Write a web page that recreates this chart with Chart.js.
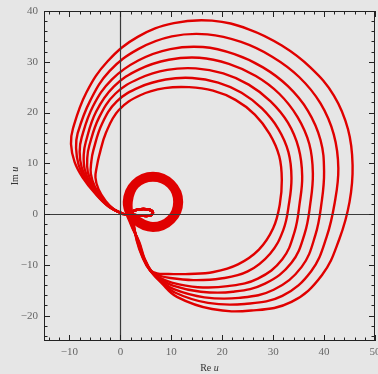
<!DOCTYPE html>
<html><head><meta charset="utf-8">
<script src="https://cdn.jsdelivr.net/npm/chart.js@4.4.1/dist/chart.umd.min.js"></script>
<style>html,body{margin:0;padding:0;background:#e6e6e6;} #wrap{width:378px;height:374px;position:relative;}</style>
</head><body><div id="wrap"><canvas id="c"></canvas></div>
<script>
const xTickValues = [-10, 0, 10, 20, 30, 40, 50];
const yTickValues = [-20, -10, 0, 10, 20, 30, 40];
const xRange = [-15, 50];
const yRange = [-25, 40];

const spiral1 = [[0.6,0],[-1.1,0.8],[-2.9,2.6],[-4.3,4.9],[-4.9,7.2],[-4.6,9.5],[-4.2,11.4],[-2.8,16.1],[-0.3,20.5],[3.9,23.4],[8.7,24.8],[13.5,25.0],[18.2,24.3],[22.6,22.5],[26.4,19.6],[29.3,15.8],[31.2,11.4],[31.7,6.7],[31.3,1.9],[30.0,-2.8],[27.2,-7.0],[23.1,-9.9],[18.3,-11.4],[13.5,-11.8],[9.5,-11.8],[7.2,-11.7],[5.7,-10.9],[4.3,-8.4],[3.2,-5.2],[2.6,-1.6],
  [2.2,2.4],[3.4,5.4],[6.4,6.6],[9.4,5.4],[10.6,2.4],[9.4,-0.6],[6.4,-1.8],[3.4,-0.6],
  [2.3,0.3],[3.5,0.9],[5.5,0.9],[6.4,0.3],[5.8,-0.3],[4.0,-0.3],[2.5,-0.1],[0.6,0]];
const spiral2 = [[0.6,0],[-1.4,1.0],[-3.4,2.9],[-5.0,5.4],[-5.8,7.9],[-5.7,10.4],[-5.3,12.6],[-3.6,17.8],[-0.7,22.2],[3.8,25.0],[8.9,26.5],[14.1,26.8],[19.2,25.9],[23.8,23.9],[27.8,20.8],[31.0,16.8],[33.0,12.2],[33.6,7.1],[33.1,2.0],[32.0,-3.1],[29.4,-7.8],[25.0,-11.3],[19.7,-12.7],[14.3,-13.0],[9.8,-12.6],[7.3,-12.0],[5.8,-11.0],[4.4,-8.5],[3.3,-5.3],[2.5,-1.7],
  [1.95,2.4],[3.25,5.55],[6.4,6.85],[9.55,5.55],[10.85,2.4],[9.55,-0.75],[6.4,-2.05],[3.25,-0.75],
  [2.3,0.3],[3.5,0.9],[5.5,0.9],[6.4,0.3],[5.8,-0.3],[4.0,-0.3],[2.5,-0.1],[0.6,0]];
const spiral3 = [[0.6,0],[-1.6,1.1],[-3.7,3.2],[-5.4,5.8],[-6.4,8.3],[-6.5,11.1],[-6.1,13.5],[-4.2,19.0],[-1.0,23.7],[3.7,26.7],[9.2,28.4],[14.8,28.7],[20.2,27.7],[25.2,25.5],[29.5,22.2],[32.9,18.0],[35.0,13.0],[35.7,7.5],[35.2,2.1],[34.2,-3.5],[31.8,-8.9],[27.0,-12.7],[21.1,-14.2],[15.2,-14.4],[10.1,-13.5],[7.5,-12.4],[5.9,-11.2],[4.5,-8.6],[3.4,-5.3],[2.4,-1.7],
  [1.7,2.4],[3.1,5.7],[6.4,7.1],[9.7,5.7],[11.1,2.4],[9.7,-0.9],[6.4,-2.3],[3.1,-0.9],
  [2.3,0.3],[3.5,0.9],[5.5,0.9],[6.4,0.3],[5.8,-0.3],[4.0,-0.3],[2.5,-0.1],[0.6,0]];
const spiral4 = [[0.6,0],[-1.8,1.2],[-4.0,3.4],[-5.9,6.1],[-7.0,8.8],[-7.2,11.7],[-6.8,14.2],[-4.8,20.1],[-1.3,25.1],[3.7,28.5],[9.5,30.4],[15.5,30.8],[21.3,29.6],[26.6,27.2],[31.2,23.7],[34.8,19.1],[37.1,13.8],[37.8,8.0],[37.3,2.1],[36.2,-3.8],[33.6,-9.6],[28.4,-13.7],[22.1,-15.3],[15.8,-15.3],[10.3,-14.1],[7.6,-12.6],[6.0,-11.3],[4.6,-8.7],[3.5,-5.4],[2.3,-1.8],
  [1.45,2.4],[2.9,5.9],[6.4,7.35],[9.9,5.9],[11.35,2.4],[9.9,-1.1],[6.4,-2.55],[2.9,-1.1],
  [2.3,0.3],[3.5,0.9],[5.5,0.9],[6.4,0.3],[5.8,-0.3],[4.0,-0.3],[2.5,-0.1],[0.6,0]];
const spiral5 = [[0.6,0],[-2.0,1.3],[-4.3,3.6],[-6.3,6.4],[-7.6,9.2],[-8.0,12.3],[-7.6,15.1],[-5.4,21.2],[-1.7,26.5],[3.6,30.3],[9.8,32.5],[16.2,32.9],[22.4,31.5],[28.0,28.9],[32.9,25.2],[36.8,20.4],[39.3,14.6],[40.0,8.4],[39.5,2.2],[38.3,-4.1],[35.6,-10.4],[30.1,-14.9],[23.3,-16.5],[16.5,-16.4],[10.5,-14.8],[7.7,-12.9],[6.1,-11.4],[4.6,-8.7],[3.5,-5.4],[2.2,-1.8],
  [1.2,2.4],[2.7,6.1],[6.4,7.6],[10.1,6.1],[11.6,2.4],[10.1,-1.3],[6.4,-2.8],[2.7,-1.3],
  [2.3,0.3],[3.5,0.9],[5.5,0.9],[6.4,0.3],[5.8,-0.3],[4.0,-0.3],[2.5,-0.1],[0.6,0]];
const spiral6 = [[0.6,0],[-2.2,1.4],[-4.6,3.8],[-6.8,6.8],[-8.2,9.7],[-8.7,13.0],[-8.4,15.9],[-5.9,22.4],[-2.1,28.2],[3.5,32.5],[10.1,35.0],[17.1,35.4],[23.7,33.9],[29.8,31.0],[35.1,27.0],[39.3,21.8],[41.9,15.7],[42.8,9.0],[42.1,2.3],[40.5,-4.5],[37.5,-11.2],[31.8,-16.1],[24.4,-17.7],[17.2,-17.5],[10.8,-15.5],[7.9,-13.2],[6.2,-11.5],[4.7,-8.8],[3.6,-5.5],[2.1,-1.9],
  [0.95,2.4],[2.55,6.25],[6.4,7.85],[10.25,6.25],[11.85,2.4],[10.25,-1.45],[6.4,-3.05],[2.55,-1.45],
  [2.3,0.3],[3.5,0.9],[5.5,0.9],[6.4,0.3],[5.8,-0.3],[4.0,-0.3],[2.5,-0.1],[0.6,0]];
const spiral7 = [[0.6,0],[-2.4,1.6],[-5.0,4.1],[-7.4,7.2],[-9.0,10.3],[-9.7,13.8],[-9.3,16.9],[-6.7,23.9],[-2.5,30.1],[3.4,34.9],[10.5,37.6],[18.0,38.1],[25.2,36.4],[31.7,33.2],[37.3,28.9],[41.9,23.4],[44.7,16.7],[45.6,9.6],[45.0,2.4],[43.0,-4.9],[39.6,-12.0],[33.6,-17.3],[25.7,-19.0],[18.0,-18.7],[11.1,-16.3],[8.0,-13.5],[6.3,-11.6],[4.8,-8.9],[3.7,-5.5],[2.0,-1.9],
  [0.7,2.4],[2.4,6.4],[6.4,8.1],[10.4,6.4],[12.1,2.4],[10.4,-1.6],[6.4,-3.3],[2.4,-1.6],
  [2.3,0.3],[3.5,0.9],[5.5,0.9],[6.4,0.3],[5.8,-0.3],[4.0,-0.3],[2.5,-0.1],[0.6,0]];

const spirals = [spiral1, spiral2, spiral3, spiral4, spiral5, spiral6, spiral7];
const fmt = v => v < 0 ? '\u2212' + Math.abs(v) : String(v);

const framePlugin = {
  id: 'frame',
  beforeDraw(chart) {
    const ctx = chart.ctx;
    ctx.save();
    ctx.fillStyle = '#e6e6e6';
    ctx.fillRect(0, 0, chart.width, chart.height);
    ctx.restore();
  },
  afterDatasetsDraw(chart) {
    const {ctx, chartArea: a, scales: {x, y}} = chart;
    ctx.save();
    ctx.strokeStyle = '#3a3a3a';
    ctx.lineWidth = 1.2;
    const x0 = Math.round(x.getPixelForValue(0)) + 0.5;
    const y0 = Math.round(y.getPixelForValue(0)) + 0.5;
    ctx.beginPath();
    ctx.moveTo(x0, a.top); ctx.lineTo(x0, a.bottom);
    ctx.moveTo(a.left, y0); ctx.lineTo(a.right, y0);
    ctx.stroke();
    ctx.strokeStyle = '#222';
    ctx.lineWidth = 1;
    ctx.strokeRect(a.left + 0.5, a.top + 0.5, a.right - a.left - 1, a.bottom - a.top - 1);
    ctx.beginPath();
    for (let v = xRange[0] + 1; v <= xRange[1]; v += 2) {
      const px = Math.round(x.getPixelForValue(v)) + 0.5;
      const len = v % 10 === 0 ? 6 : 3.5;
      ctx.moveTo(px, a.bottom); ctx.lineTo(px, a.bottom - len);
      ctx.moveTo(px, a.top); ctx.lineTo(px, a.top + len);
    }
    for (let v = yRange[0] + 1; v <= yRange[1]; v += 2) {
      const py = Math.round(y.getPixelForValue(v)) + 0.5;
      const len = v % 10 === 0 ? 6 : 3.5;
      ctx.moveTo(a.left, py); ctx.lineTo(a.left + len, py);
      ctx.moveTo(a.right, py); ctx.lineTo(a.right - len, py);
    }
    ctx.stroke();
    ctx.fillStyle = '#333';
    ctx.textBaseline = 'middle';
    const fN = '10px "Liberation Serif"', fI = 'italic 10px "Liberation Serif"';
    const drawTitle = (a1, b1, cx, cy, rot) => {
      ctx.save();
      ctx.translate(cx, cy);
      if (rot) ctx.rotate(-Math.PI / 2);
      ctx.font = fN; const w1 = ctx.measureText(a1).width;
      ctx.font = fI; const w2 = ctx.measureText(b1).width;
      const start = -(w1 + w2) / 2;
      ctx.textAlign = 'left';
      ctx.font = fN; ctx.fillText(a1, start, 0);
      ctx.font = fI; ctx.fillText(b1, start + w1, 0);
      ctx.restore();
    };
    drawTitle('Re ', 'u', (a.left + a.right) / 2, 368, false);
    drawTitle('Im ', 'u', 15, (a.top + a.bottom) / 2, true);
    ctx.restore();
  }
};

new Chart(document.getElementById('c'), {
  type: 'scatter',
  data: {
    datasets: spirals.map((s, i) => ({
      label: 'curve ' + (i + 1),
      data: s.map(p => ({x: p[0], y: p[1]})),
      showLine: true,
      borderColor: '#e00000',
      borderWidth: 2.4,
      pointRadius: 0,
      tension: 0.4,
      fill: false
    }))
  },
  options: {
    responsive: true,
    maintainAspectRatio: false,
    animation: false,
    layout: {padding: {left: 0, right: 3, top: 11, bottom: 0}},
    plugins: {legend: {display: false}, tooltip: {enabled: false}},
    scales: {
      x: {
        type: 'linear', min: xRange[0], max: xRange[1],
        grid: {display: false, drawTicks: false}, border: {display: false},
        afterBuildTicks: s => { s.ticks = xTickValues.map(v => ({value: v})); },
        ticks: {callback: v => fmt(v), color: '#666', font: {family: 'Liberation Serif', size: 11}, padding: 5, maxRotation: 0, autoSkip: false},
        afterFit: s => { s.height = 33; s.paddingLeft = 0; s.paddingRight = 0; }
      },
      y: {
        type: 'linear', min: yRange[0], max: yRange[1],
        grid: {display: false, drawTicks: false}, border: {display: false},
        afterBuildTicks: s => { s.ticks = yTickValues.map(v => ({value: v})); },
        ticks: {callback: v => fmt(v), color: '#666', font: {family: 'Liberation Serif', size: 11}, padding: 6, autoSkip: false},
        afterFit: s => { s.width = 44; s.paddingTop = 0; s.paddingBottom = 0; }
      }
    }
  },
  plugins: [framePlugin]
});
</script>
</body></html>
